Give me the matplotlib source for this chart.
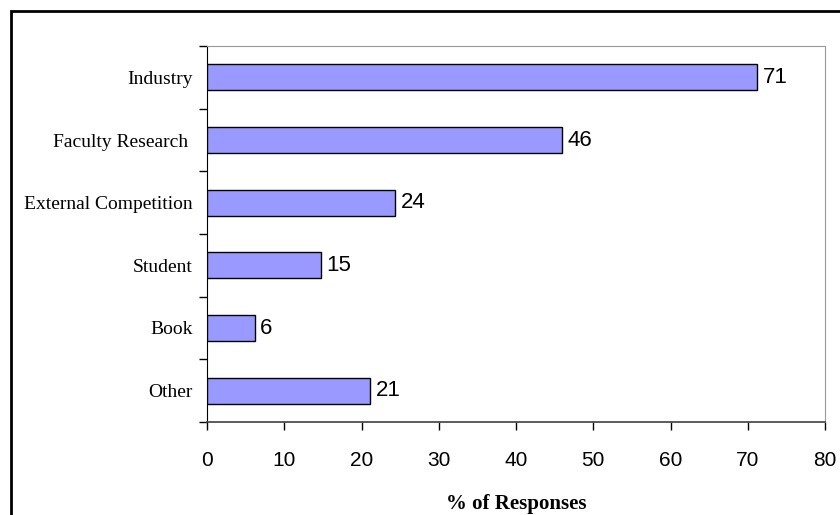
import matplotlib
matplotlib.use("Agg")
import matplotlib.pyplot as plt
from matplotlib.patches import Rectangle
import numpy as np

# data
categories = ["Industry", "Faculty Research ", "External Competition", "Student", "Book", "Other"]
values = [71.2, 46.0, 24.4, 14.7, 6.2, 21.1]
labels = ["71", "46", "24", "15", "6", "21"]
xticks = [0, 10, 20, 30, 40, 50, 60, 70, 80]

fig = plt.figure(figsize=(8.4, 5.15), dpi=100)
ax = fig.add_axes([207 / 840, 1 - 422 / 515, (825 - 207) / 840, (422 - 46) / 515])

y = np.arange(len(categories))
ax.barh(y, values, height=0.42, color="#9999FF", edgecolor="black", linewidth=1.0, zorder=3)
for yi, v, lab in zip(y, values, labels):
    ax.text(v + 0.7, yi, lab, va="center", ha="left", fontsize=16, family="Liberation Sans")

ax.set_ylim(len(categories) - 0.5, -0.5)
ax.set_xlim(0, 80)
ax.set_xticks(xticks)
ax.set_xticklabels([str(t) for t in xticks], family="Liberation Sans", fontsize=15)

# category ticks sit between the bars, labels in the middle
ax.set_yticks(np.arange(-0.5, len(categories), 1.0))
ax.set_yticklabels([])
ax.set_yticks(y, minor=True)
ax.set_yticklabels(categories, minor=True, family="Liberation Serif", fontsize=14)
ax.tick_params(axis="y", which="minor", length=0, pad=10)
ax.tick_params(axis="y", which="major", length=6, direction="out", width=1)
ax.tick_params(axis="x", length=6, direction="out", width=1, pad=15)

ax.spines["left"].set_color("black")
ax.spines["bottom"].set_color("#404040")
ax.spines["bottom"].set_linewidth(1.2)
ax.spines["top"].set_color("#999999")
ax.spines["right"].set_color("#999999")
ax.spines["top"].set_linewidth(0.8)
ax.spines["right"].set_linewidth(0.8)

ax.set_xlabel("% of Responses", family="Liberation Serif", fontweight="bold", fontsize=15, labelpad=17)

# chart border (only top/left visible in the reference)
fig.patches.append(Rectangle((11 / 840, -0.1), 1.2, 1 - 11 / 515 + 0.1, transform=fig.transFigure,
                             fill=False, edgecolor="black", linewidth=2, clip_on=False))

fig.savefig("out.png", dpi=100)
